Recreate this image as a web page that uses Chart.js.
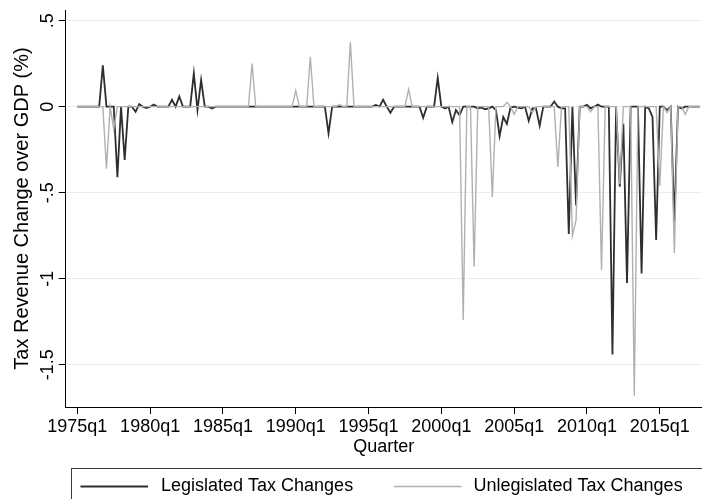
<!DOCTYPE html>
<html>
<head>
<meta charset="utf-8">
<script src="https://cdn.jsdelivr.net/npm/chart.js@4.4.0/dist/chart.umd.min.js"></script>
<style>
  html, body { margin: 0; padding: 0; background: #ffffff; }
  canvas { display: block; }
</style>
</head>
<body>
<canvas id="chart" width="702" height="499"></canvas>
<script>
// Quarterly tax revenue changes, % of GDP, 1975q1 .. 2017q4 (one row per year)
const firstYear = 1975;

const legislated = [
  0, 0, 0, 0,             // 1975
  0, 0, 0, 0.24,          // 1976
  0, 0, 0, -0.41,         // 1977
  0, -0.31, 0, 0,         // 1978
  -0.03, 0.015, 0, -0.008,// 1979
  0, 0.013, 0, 0,         // 1980
  0, 0, 0.04, 0,          // 1981
  0.06, 0, 0, 0,          // 1982
  0.194, -0.02, 0.155, 0, // 1983
  0, -0.01, 0, 0,         // 1984
  0, 0, 0, 0,             // 1985
  0, 0, 0, 0,             // 1986
  0, 0, 0, 0,             // 1987
  0, 0, 0, 0,             // 1988
  0, 0, 0, 0,             // 1989
  0, 0, 0, 0,             // 1990
  0, 0, 0, 0,             // 1991
  0, -0.155, 0, 0,        // 1992
  0, 0, 0, 0,             // 1993
  0, 0, 0, 0,             // 1994
  0, 0, 0.01, 0,          // 1995
  0.04, 0, -0.035, 0,     // 1996
  0, 0, 0, 0,             // 1997
  0, 0, 0, -0.065,        // 1998
  0, 0, 0, 0.167,         // 1999
  0, -0.01, 0, -0.09,     // 2000
  -0.02, -0.05, 0, 0,     // 2001
  0, 0, -0.01, -0.005,    // 2002
  -0.015, -0.01, 0, -0.02,// 2003
  -0.17, -0.06, -0.1, -0.005, // 2004
  0, -0.005, -0.01, 0,    // 2005
  -0.083, -0.01, -0.01, -0.11, // 2006
  0, 0, 0, 0.03,          // 2007
  0, -0.01, -0.01, -0.74, // 2008
  0, -0.575, 0, 0,        // 2009
  0.01, -0.01, 0, 0.012,  // 2010
  0, 0, 0, -1.44,         // 2011
  0, -0.465, -0.1, -1.025,// 2012
  0, 0, 0, -0.97,         // 2013
  0, -0.01, -0.06, -0.775,// 2014
  0, 0, -0.02, 0,         // 2015
  -0.67, 0, -0.01, 0,     // 2016
  0, 0, 0, 0              // 2017
];

const unlegislated = [
  0, 0, 0, 0,             // 1975
  0, 0, 0, 0,             // 1976
  -0.36, 0, -0.13, 0,     // 1977
  0, 0, 0, 0,             // 1978
  0, 0, 0, 0,             // 1979
  0, 0, 0, 0,             // 1980
  0, 0, 0, 0,             // 1981
  0, 0, 0, 0,             // 1982
  0, 0, 0, 0,             // 1983
  0, 0, 0, 0,             // 1984
  0, 0, 0, 0,             // 1985
  0, 0, 0, 0,             // 1986
  0.25, 0, 0, 0,          // 1987
  0, 0, 0, 0,             // 1988
  0, 0, 0, 0,             // 1989
  0.093, 0, 0, 0,         // 1990
  0.29, 0, 0, 0,          // 1991
  0, 0, 0, 0,             // 1992
  0.012, 0, 0, 0.375,     // 1993
  0, 0, 0, 0,             // 1994
  0, 0, 0, 0,             // 1995
  0, 0, 0, 0,             // 1996
  0, 0, 0, 0.10,          // 1997
  0, 0, 0, 0,             // 1998
  0, 0, 0, 0,             // 1999
  0, 0, 0, 0,             // 2000
  0, 0, -1.24, 0,         // 2001
  0, -0.93, 0, 0,         // 2002
  0, 0, -0.525, 0,        // 2003
  0, 0, 0.025, 0,         // 2004
  -0.045, 0, 0, 0,        // 2005
  0, -0.035, 0, 0,        // 2006
  0, 0, 0, 0,             // 2007
  -0.35, 0, 0, 0,         // 2008
  -0.75, -0.66, 0, 0,     // 2009
  0, -0.03, 0, 0,         // 2010
  -0.95, 0, 0, 0,         // 2011
  0, -0.45, 0, 0,         // 2012
  0, -1.68, 0, 0,         // 2013
  0, 0, 0, 0,             // 2014
  -0.46, 0, -0.035, 0,    // 2015
  -0.85, 0, 0, -0.045,    // 2016
  0, 0, 0, 0              // 2017
];

// Category labels: 1975q1, 1975q2, ...
const quarters = legislated.map((_, i) => (firstYear + Math.floor(i / 4)) + 'q' + (i % 4 + 1));

const xTickLabels = ['1975q1', '1980q1', '1985q1', '1990q1', '1995q1',
                     '2000q1', '2005q1', '2010q1', '2015q1'];
const yTickValues = [-1.5, -1, -0.5, 0, 0.5];
const yTickLabels = ['-1.5', '-1', '-.5', '0', '.5'];

const seriesNames = ['Legislated Tax Changes', 'Unlegislated Tax Changes'];

Chart.defaults.font.family = "'Liberation Sans', Arial, Helvetica, sans-serif";
Chart.defaults.font.size = 18;
Chart.defaults.color = '#000000';

// Boxed legend underneath the axis title
const boxLegend = {
  id: 'boxLegend',
  afterDraw(chart) {
    const ctx = chart.ctx;
    ctx.save();
    ctx.strokeStyle = '#3a3a3a';
    ctx.lineWidth = 1;
    ctx.strokeRect(71.5, 468.5, 660, 60);
    const slots = [{ x0: 80.5, x1: 148, tx: 161 }, { x0: 394, x1: 461.5, tx: 473.5 }];
    const yMid = 486.5;
    ctx.font = "18px 'Liberation Sans', Arial, sans-serif";
    ctx.textBaseline = 'middle';
    ctx.textAlign = 'left';
    chart.data.datasets.forEach((ds, i) => {
      const s = slots[i];
      ctx.strokeStyle = ds.borderColor;
      ctx.lineWidth = ds.borderWidth;
      ctx.beginPath();
      ctx.moveTo(s.x0, yMid);
      ctx.lineTo(s.x1, yMid);
      ctx.stroke();
      ctx.fillStyle = '#000000';
      ctx.fillText(ds.label, s.tx, yMid);
    });
    ctx.restore();
  }
};

new Chart(document.getElementById('chart'), {
  type: 'line',
  data: {
    datasets: [
      {
        label: seriesNames[0],
        data: legislated.map((v, i) => ({ x: i, y: v })),
        borderColor: '#2e2e2e',
        borderWidth: 1.8,
        order: 1
      },
      {
        label: seriesNames[1],
        data: unlegislated.map((v, i) => ({ x: i, y: v })),
        borderColor: '#b0b0b0',
        borderWidth: 1.4,
        order: 0
      }
    ]
  },
  options: {
    responsive: false,
    animation: false,
    devicePixelRatio: 1,
    layout: { padding: { left: 0, top: 10, right: 0, bottom: 0 } },
    elements: {
      point: { radius: 0, hoverRadius: 0 },
      line: { tension: 0, borderJoinStyle: 'miter', fill: false }
    },
    plugins: {
      legend: { display: false },
      tooltip: { enabled: false }
    },
    scales: {
      x: {
        type: 'linear',
        min: -3.2,
        max: 171.6,
        afterBuildTicks: (s) => { s.ticks = xTickLabels.map(l => ({ value: quarters.indexOf(l) })); },
        afterFit: (s) => { s.height = 92; s.paddingLeft = 0; s.paddingRight = 0; },
        ticks: {
          autoSkip: false,
          minRotation: 0,
          maxRotation: 0,
          padding: 2,
          callback: (v) => quarters[v]
        },
        grid: {
          drawOnChartArea: false,
          drawTicks: true,
          tickLength: 7,
          tickColor: '#000000',
          tickWidth: 1
        },
        border: { display: true, color: '#000000', width: 1 },
        title: {
          display: true,
          text: 'Quarter',
          padding: { top: 0, bottom: 41 }
        }
      },
      y: {
        min: -1.746,
        max: 0.562,
        afterBuildTicks: (s) => { s.ticks = yTickValues.map(v => ({ value: v })); },
        afterFit: (s) => { s.width = 65.7; s.paddingTop = 0; s.paddingBottom = 0; },
        ticks: {
          minRotation: 90,
          maxRotation: 90,
          crossAlign: 'center',
          padding: -5,
          callback: (v) => yTickLabels[yTickValues.indexOf(v)]
        },
        grid: {
          color: '#e6eef1',
          lineWidth: 1,
          drawTicks: true,
          tickLength: 7,
          tickColor: '#000000',
          tickWidth: 1
        },
        border: { display: true, color: '#000000', width: 1 },
        title: {
          display: true,
          text: 'Tax Revenue Change over GDP (%)',
          font: { size: 20 },
          padding: { top: 10, bottom: 0 }
        }
      }
    }
  },
  plugins: [boxLegend]
});
</script>
</body>
</html>
